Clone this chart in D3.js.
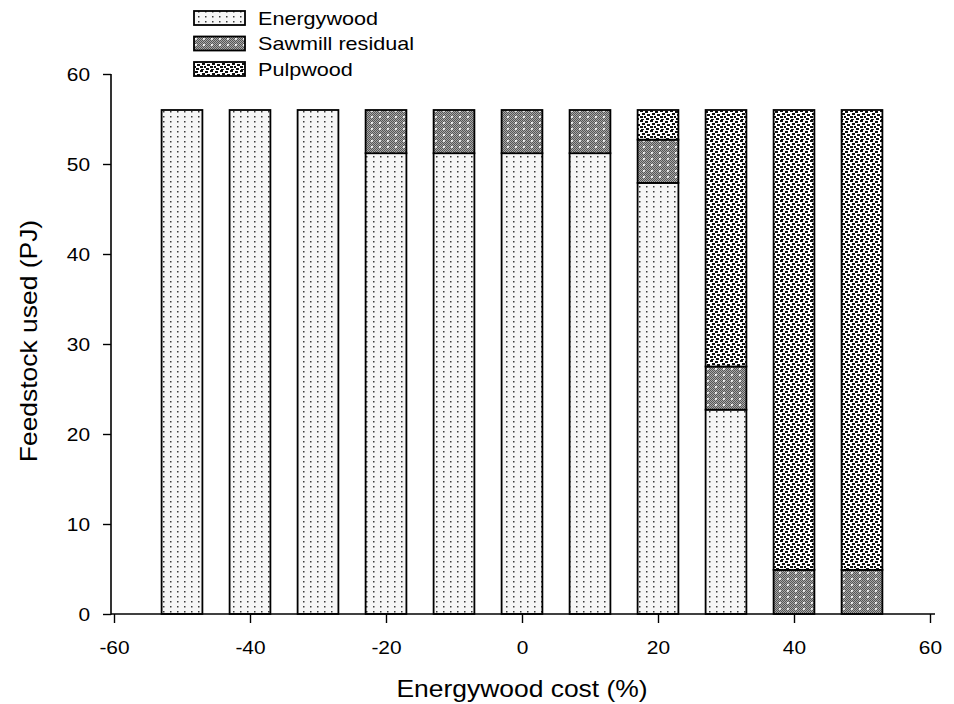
<!DOCTYPE html>
<html>
<head>
<meta charset="utf-8">
<script src="https://cdn.jsdelivr.net/npm/d3@7"></script>
<style>
body{margin:0;background:#fff;}
text{font-family:Arial,"Liberation Sans",sans-serif;fill:#000;}
</style>
</head>
<body>
<svg id="chart" width="954" height="704"></svg>
<script>
const costs = [-50, -40, -30, -20, -10, 0, 10, 20, 30, 40, 50];
const energywood = [56, 56, 56, 51.2, 51.2, 51.2, 51.2, 47.9, 22.7, 0, 0];
const sawmill = [0, 0, 0, 4.8, 4.8, 4.8, 4.8, 4.8, 4.8, 4.9, 4.9];
const pulpwood = [0, 0, 0, 0, 0, 0, 0, 3.3, 28.5, 51.1, 51.1];
const seriesNames = ["Energywood", "Sawmill residual", "Pulpwood"];
const xTicks = [-60, -40, -20, 0, 20, 40, 60];
const yTicks = [0, 10, 20, 30, 40, 50, 60];
const barWidthUnits = 6;

const FONT = "Arial, 'Liberation Sans', sans-serif";
const svg = d3.select("#chart");
const defs = svg.append("defs");

// Energywood pattern: light background with small dark dots
const p1 = defs.append("pattern").attr("id","pat0").attr("patternUnits","userSpaceOnUse")
  .attr("width",7).attr("height",5);
p1.append("rect").attr("width",7).attr("height",5).attr("fill","#f6f6f6");
p1.append("rect").attr("x",2).attr("y",1).attr("width",1.5).attr("height",1.5).attr("fill","#3a3a3a");

// Sawmill pattern: gray checker with white dots
const p2 = defs.append("pattern").attr("id","pat1").attr("patternUnits","userSpaceOnUse")
  .attr("width",8).attr("height",6);
p2.append("rect").attr("width",8).attr("height",6).attr("fill","#a8a8a8");
for (let i=0;i<8;i++) for (let j=0;j<6;j++) if ((i+j)%2===0)
  p2.append("rect").attr("x",i).attr("y",j).attr("width",1).attr("height",1).attr("fill","#555");
p2.append("rect").attr("x",3).attr("y",2).attr("width",1.8).attr("height",1.8).attr("fill","#fff");

// Pulpwood pattern: white with irregular black dashes
const p3 = defs.append("pattern").attr("id","pat2").attr("patternUnits","userSpaceOnUse")
  .attr("width",10).attr("height",10);
p3.append("rect").attr("width",10).attr("height",10).attr("fill","#fff");
const dashes = [[0,0,3,2],[5,1,3,2],[2,3,3,2],[7,4,3,2],[0,6,3,2],[4,6,2,2],[6,8,3,2],[1,9,3,1]];
dashes.forEach(d=>p3.append("rect").attr("x",d[0]).attr("y",d[1]).attr("width",d[2]).attr("height",d[3]).attr("fill","#111"));

const x = d3.scaleLinear().domain([-60,60]).range([114,930]);
const y = d3.scaleLinear().domain([0,60]).range([614,74]);

const data = costs.map((c,i)=>({cost:c, Energywood:energywood[i], "Sawmill residual":sawmill[i], Pulpwood:pulpwood[i]}));
const stack = d3.stack().keys(seriesNames)(data);

const g = svg.append("g");
stack.forEach((layer,k)=>{
  g.selectAll(null).data(layer.filter(d=>d[1]-d[0]>0)).enter().append("rect")
    .attr("x",d=>x(d.data.cost-barWidthUnits/2))
    .attr("width",d=>x(d.data.cost+barWidthUnits/2)-x(d.data.cost-barWidthUnits/2))
    .attr("y",d=>y(d[1]))
    .attr("height",d=>y(d[0])-y(d[1]))
    .attr("fill",`url(#pat${k})`)
    .attr("stroke","#000").attr("stroke-width",1.8);
});

// axes
const tickSX = 1.1;
const xAxis = svg.append("g").attr("transform","translate(0,614)")
  .call(d3.axisBottom(x).tickValues(xTicks).tickFormat(d=>String(d)).tickSize(9).tickPadding(18).tickSizeOuter(0));
xAxis.select(".domain").remove();
xAxis.selectAll("text").attr("font-size",19).style("font-family",FONT).attr("transform",`scale(${tickSX},1)`);
xAxis.selectAll(".tick line").attr("stroke-width",1.4);
svg.append("line").attr("x1",111).attr("x2",935).attr("y1",614).attr("y2",614).attr("stroke","#000").attr("stroke-width",1.6);

const yAxis = svg.append("g").attr("transform","translate(111,0)")
  .call(d3.axisLeft(y).tickValues(yTicks).tickFormat(d=>String(d)).tickSize(8).tickPadding(13).tickSizeOuter(0));
yAxis.select(".domain").remove();
yAxis.selectAll("text").attr("font-size",19).style("font-family",FONT)
  .attr("x",-21/tickSX).attr("transform",`scale(${tickSX},1)`);
yAxis.selectAll(".tick line").attr("stroke-width",1.4);
svg.append("line").attr("x1",111).attr("x2",111).attr("y1",74).attr("y2",614.8).attr("stroke","#000").attr("stroke-width",1.6);

// titles
svg.append("text").attr("transform","translate(522,697) scale(1.15,1)").attr("text-anchor","middle").attr("font-size",23).text("Energywood cost (%)");
svg.append("text").attr("transform","translate(37,341) rotate(-90) scale(1.15,1)").attr("text-anchor","middle").attr("font-size",23).text("Feedstock used (PJ)");

// legend
const leg = svg.append("g");
seriesNames.forEach((n,k)=>{
  const yy = 11 + k*25.5;
  leg.append("rect").attr("x",194).attr("y",yy).attr("width",51).attr("height",14)
    .attr("fill",`url(#pat${k})`).attr("stroke","#000").attr("stroke-width",1.8);
  leg.append("text").attr("transform",`translate(258,${yy+13.5}) scale(1.2,1)`).attr("font-size",18).text(n);
});
</script>
</body>
</html>
